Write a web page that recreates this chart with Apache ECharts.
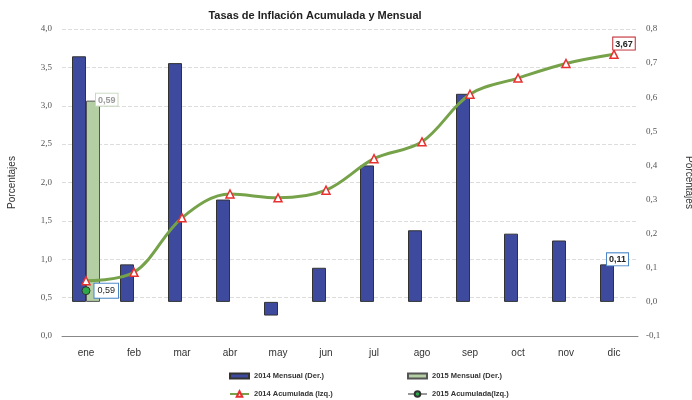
<!DOCTYPE html>
<html><head><meta charset="utf-8">
<script src="https://cdn.jsdelivr.net/npm/echarts@6/dist/echarts.min.js"></script>
<style>html,body{margin:0;padding:0;background:#fff}#c{width:692px;height:400px}</style>
</head><body><div id="c"></div>
<script>
const categories = ['ene','feb','mar','abr','may','jun','jul','ago','sep','oct','nov','dic'];
const mensual2014 = [0.72, 0.11, 0.70, 0.30, -0.04, 0.10, 0.40, 0.21, 0.61, 0.20, 0.18, 0.11];
const mensual2015 = [0.59, null, null, null, null, null, null, null, null, null, null, null];
const acumulada2014 = [0.72, 0.83, 1.54, 1.85, 1.80, 1.90, 2.31, 2.53, 3.15, 3.36, 3.55, 3.67];
const acumulada2015 = [0.59, null, null, null, null, null, null, null, null, null, null, null];
const fmt = v => (Math.round(v*100)/100).toFixed(2).replace('.', ',');
const fmt1 = v => v.toFixed(1).replace('.', ',');

// attach a label only to the last non-null point of a series
function withLabel(arr, label) {
  let last = -1;
  arr.forEach((v, i) => { if (v != null) last = i; });
  return arr.map((v, i) => i === last ? {value: v, label: Object.assign({show: true, formatter: p => fmt(p.value)}, label)} : v);
}

const chart = echarts.init(document.getElementById('c'));
const legText = {fontSize: 7.5, fontWeight: 'bold', color: '#333', fontFamily: 'Liberation Sans'};
chart.setOption({
  animation: false,
  title: {text: 'Tasas de Inflación Acumulada y Mensual', left: 310, top: 5, textAlign: 'center',
    textStyle: {fontSize: 11, fontWeight: 'bold', color: '#222', fontFamily: 'Liberation Sans'}},
  grid: {left: 62, right: 54, top: 29, bottom: 64, outerBoundsMode: 'none', containLabel: false},
  legend: [
    {data: ['2014 Mensual (Der.)'], left: 229, top: 372, itemWidth: 19, itemHeight: 5, icon: 'rect', textStyle: legText, padding: 0, itemGap: 0},
    {data: ['2015 Mensual (Der.)'], left: 407, top: 372, itemWidth: 19, itemHeight: 5, icon: 'rect', textStyle: legText, padding: 0, itemGap: 0},
    {data: ['2014 Acumulada (Izq.)'], left: 229, top: 390, itemWidth: 19, itemHeight: 7, textStyle: legText, padding: 0},
    {data: ['2015 Acumulada(Izq.)'], left: 407, top: 390, itemWidth: 19, itemHeight: 7, textStyle: legText, padding: 0}
  ],
  xAxis: {type: 'category', data: categories, boundaryGap: true,
    axisLine: {lineStyle: {color: '#888'}}, axisTick: {show: false},
    axisLabel: {color: '#333', fontSize: 10, fontFamily: 'Liberation Sans', margin: 12}},
  yAxis: [
    {type: 'value', min: 0, max: 4, interval: 0.5, position: 'left',
      name: 'Porcentajes', nameLocation: 'middle', nameGap: 45,
      nameTextStyle: {fontSize: 10, color: '#333', fontFamily: 'Liberation Sans'},
      axisLabel: {formatter: fmt1, color: '#555', fontSize: 9, fontFamily: 'Liberation Serif', margin: 10},
      splitLine: {lineStyle: {color: '#ddd', type: 'dashed'}}, axisLine: {show: false}, axisTick: {show: false}},
    {type: 'value', min: -0.1, max: 0.8, interval: 0.1, position: 'right',
      name: 'Porcentajes', nameLocation: 'middle', nameGap: 46, nameRotate: -90,
      nameTextStyle: {fontSize: 10, color: '#333', fontFamily: 'Liberation Sans'},
      axisLabel: {formatter: fmt1, color: '#555', fontSize: 9, fontFamily: 'Liberation Serif', margin: 8},
      splitLine: {show: false}, axisLine: {show: false}, axisTick: {show: false}}
  ],
  series: [
    {name: '2014 Mensual (Der.)', type: 'bar', yAxisIndex: 1, barWidth: 14, barGap: '0%',
      data: withLabel(mensual2014, {position: [7, -11], fontSize: 9, fontWeight: 'bold', color: '#222',
        backgroundColor: '#fff', borderColor: '#4a86c8', borderWidth: 1, padding: [2, 2, 1, 2], fontFamily: 'Liberation Sans'}),
      itemStyle: {color: '#3D4A9E', borderColor: '#333', borderWidth: 1}, label: {show: false}},
    {name: '2015 Mensual (Der.)', type: 'bar', yAxisIndex: 1, barWidth: 14, barGap: '0%',
      data: withLabel(mensual2015, {position: [10, -7], fontSize: 9, fontWeight: 'bold', color: '#9a9a9a',
        backgroundColor: '#fff', borderColor: '#c8d8c0', borderWidth: 1, padding: [2, 2, 1, 2], fontFamily: 'Liberation Sans'}),
      itemStyle: {color: '#B3CFA3', borderColor: '#555', borderWidth: 1}, label: {show: false}},
    {name: '2014 Acumulada (Izq.)', type: 'line', yAxisIndex: 0, smooth: 0.35,
      data: withLabel(acumulada2014, {position: 'top', offset: [10, 5], fontSize: 9, fontWeight: 'bold', color: '#222',
        backgroundColor: '#fff', borderColor: '#c0282e', borderWidth: 1, padding: [2, 2, 1, 2], fontFamily: 'Liberation Sans'}),
      lineStyle: {color: '#76A24A', width: 3}, itemStyle: {color: '#fff', borderColor: '#e83030', borderWidth: 1.5},
      symbol: 'triangle', symbolSize: 8, z: 5, label: {show: false}},
    {name: '2015 Acumulada(Izq.)', type: 'line', yAxisIndex: 0,
      data: withLabel(acumulada2015, {position: 'right', distance: 4, fontSize: 9, color: '#222',
        backgroundColor: '#fff', borderColor: '#4a86c8', borderWidth: 1, padding: [3, 3, 2, 3], fontFamily: 'Liberation Sans'}),
      lineStyle: {color: '#999', width: 1.5}, itemStyle: {color: '#2ea84a', borderColor: '#333', borderWidth: 1},
      symbol: 'circle', symbolSize: 8, z: 6, label: {show: false}}
  ]
});
</script></body></html>
